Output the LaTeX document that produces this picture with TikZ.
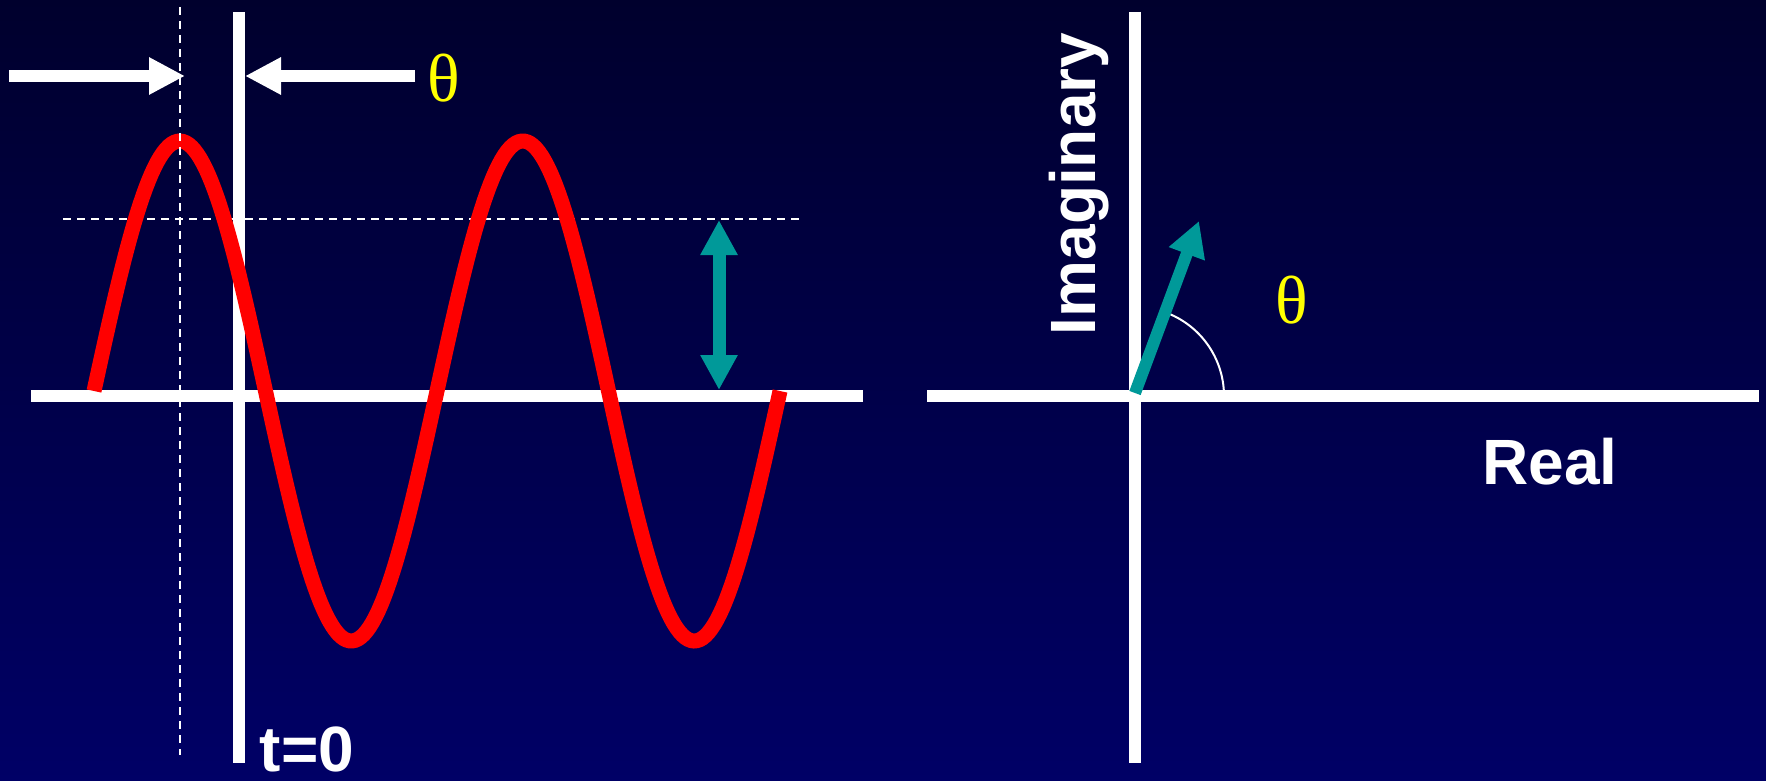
\documentclass[tikz,border=0pt]{standalone}
\usepackage{fontspec}
\setmainfont{Liberation Serif}
\setsansfont{Liberation Sans}
\usetikzlibrary{arrows.meta}
\definecolor{bgtop}{RGB}{0,0,45}
\definecolor{bgbot}{RGB}{0,0,102}
\definecolor{phasorteal}{RGB}{0,153,153}
\definecolor{thyellow}{RGB}{255,255,0}
\tikzset{
  axisline/.style={draw=white, line width=6pt},
  guide/.style={draw=white, line width=1pt, dash pattern=on 4pt off 3pt},
  wave/.style={draw=red, line width=7.5pt},
  whitearrow/.style={draw=white, line width=6pt, -{Triangle[length=18pt,width=17.5pt]}},
  tealdouble/.style={draw=phasorteal, line width=6.5pt, {Triangle[length=17.5pt,width=17.5pt]}-{Triangle[length=17.5pt,width=17.5pt]}},
  phasor/.style={draw=phasorteal, line width=6pt, -{Triangle[length=17.5pt,width=18pt]}},
  anglearc/.style={draw=white, line width=1pt},
  thetalabel/.style={text=thyellow, font=\fontsize{34}{34}\selectfont, inner sep=0pt},
  axislabel/.style={text=white, font=\sffamily\bfseries\fontsize{32}{33}\selectfont, inner sep=0pt}
}
\begin{document}
\begin{tikzpicture}[x=0.5pt,y=-0.5pt]
\useasboundingbox (0,0) rectangle (1766,781);
\shade[top color=bgtop, bottom color=bgbot] (0,0) rectangle (1766,781);

% coordinates
\coordinate (LW) at (31,396);
\coordinate (LE) at (863,396);
\coordinate (LT) at (239,12);
\coordinate (LB) at (239,763);
\coordinate (RW) at (927,396);
\coordinate (RE) at (1759,396);
\coordinate (RT) at (1135,12);
\coordinate (RB) at (1135,763);
\coordinate (HGw) at (63,219);
\coordinate (HGe) at (800,219);
\coordinate (VGt) at (180,7);
\coordinate (VGb) at (180,755);
\coordinate (A1s) at (9,76);
\coordinate (A1e) at (185,76);
\coordinate (A2s) at (415,76);
\coordinate (A2e) at (245,76);
\coordinate (Dt) at (719,220);
\coordinate (Db) at (719,390);
\coordinate (Po) at (1135,393);
\coordinate (Pt) at (1199,221);

% axes
\draw[axisline] (LW) -- (LE);
\draw[axisline] (LT) -- (LB);
\draw[axisline] (RW) -- (RE);
\draw[axisline] (RT) -- (RB);

% rms guide
\draw[guide] (HGw) -- (HGe);

% sine wave
\draw[wave] plot[variable=\t, domain=94:780, samples=240] (\t, {391-250*sin(1.049563*(\t-94))});

% peak guide
\draw[guide] (VGt) -- (VGb);

% phase arrows
\draw[whitearrow] (A1s) -- (A1e);
\draw[whitearrow] (A2s) -- (A2e);
\node[thetalabel] (th1) at (444,78) {θ};

% amplitude arrow
\draw[tealdouble] (Dt) -- (Db);

% phasor
\draw[anglearc] plot[variable=\a, domain=0:69.6, samples=40] ({1135+89*cos(\a)}, {396-89*sin(\a)});
\draw[phasor] (Po) -- (Pt);
\node[thetalabel] (th2) at (1292,300) {θ};

% labels
\node[axislabel, rotate=90, anchor=base] (imag) at (1095,184) {Imaginary};
\node[axislabel, anchor=base] (real) at (1550,484) {Real};
\node[axislabel, anchor=base] (t0) at (307,771) {t=0};
\end{tikzpicture}
\end{document}
